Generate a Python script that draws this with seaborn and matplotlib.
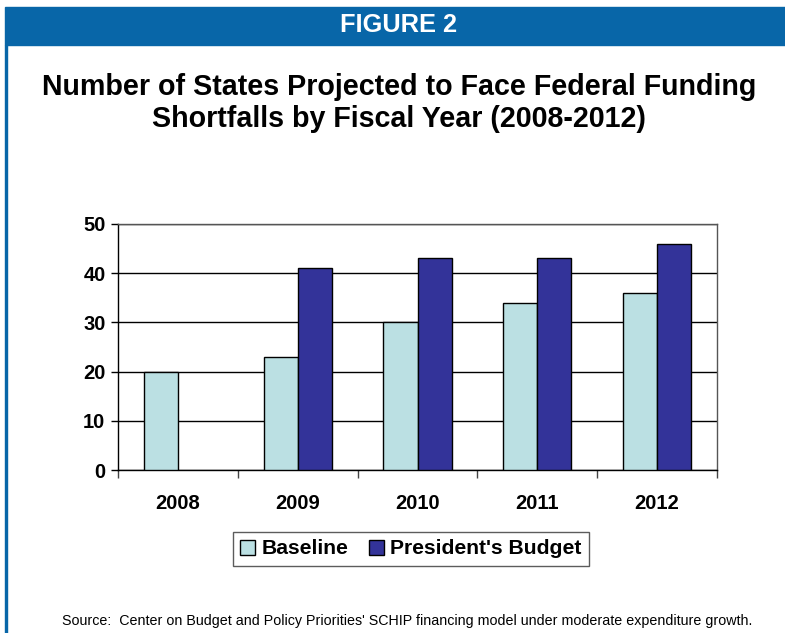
import matplotlib
matplotlib.use("Agg")
import matplotlib.pyplot as plt
import matplotlib.patches as mpatches
import numpy as np
import pandas as pd
import seaborn as sns

years = ["2008", "2009", "2010", "2011", "2012"]
baseline = [20, 23, 30, 34, 36]
presidents_budget = [np.nan, 41, 43, 43, 46]
series_names = ["Baseline", "President's Budget"]
series_colors = ["#BBE0E3", "#333399"]

df = pd.DataFrame({
    "year": years * 2,
    "states": baseline + presidents_budget,
    "series": [series_names[0]] * len(years) + [series_names[1]] * len(years),
})

sns.set_theme(style="white")
plt.rcParams["font.family"] = ["Liberation Sans", "DejaVu Sans"]
plt.rcParams["text.color"] = "black"
plt.rcParams["xtick.labelcolor"] = "black"
plt.rcParams["ytick.labelcolor"] = "black"

W, H = 785, 633
fig = plt.figure(figsize=(W / 100, H / 100), dpi=100)

# header banner and left rule
fig.patches.append(mpatches.Rectangle((5 / W, 1 - 45 / H), 1, 38 / H,
                                      transform=fig.transFigure, color="#0866A8", zorder=0))
fig.patches.append(mpatches.Rectangle((5 / W, 0), 2 / W, 1 - 45 / H,
                                      transform=fig.transFigure, color="#0866A8", zorder=0))
fig.text(399 / W, 1 - 25 / H, "FIGURE 2", color="white", fontsize=18.3,
         fontweight="bold", ha="center", va="center")

fig.text(399 / W, 1 - 103 / H,
         "Number of States Projected to Face Federal Funding\nShortfalls by Fiscal Year (2008-2012)",
         ha="center", va="center", fontsize=20.6, fontweight="bold", linespacing=1.15)

ax = fig.add_axes([118 / W, 1 - 470 / H, (717 - 118) / W, (470 - 224) / H])
sns.barplot(data=df, x="year", y="states", hue="series", palette=series_colors,
            saturation=1, width=0.57, edgecolor="black", linewidth=1, ax=ax, zorder=3)

ax.set_ylim(0, 50)
ax.set_xlim(-0.5, 4.5)
ax.set_yticks(range(0, 51, 10))
ax.yaxis.grid(True, color="black", linewidth=1, zorder=0)
ax.set_axisbelow(True)
ax.set_xlabel("")
ax.set_ylabel("")
for s in ["left", "bottom"]:
    ax.spines[s].set_color("black")
    ax.spines[s].set_linewidth(1)
for s in ["top", "right"]:
    ax.spines[s].set_color("#555555")
    ax.spines[s].set_linewidth(1)

ax.tick_params(axis="y", direction="out", length=5, width=1, color="black",
               labelsize=14.5, pad=4, left=True)
ax.tick_params(axis="x", which="major", length=0, labelsize=14.5, pad=17)
ax.set_xticks(np.arange(-0.5, 5, 1), minor=True)
ax.tick_params(axis="x", which="minor", direction="out", length=6, width=1,
               color="#444444", bottom=True)
for lbl in ax.get_xticklabels() + ax.get_yticklabels():
    lbl.set_fontweight("bold")
    lbl.set_color("black")

ax.legend_.remove()
handles = [mpatches.Patch(facecolor=c, edgecolor="black", linewidth=1) for c in series_colors]
leg = fig.legend(handles, series_names, loc="center", bbox_to_anchor=(411 / W, 1 - 549 / H),
                 ncol=2, frameon=True, fancybox=False, edgecolor="#333333",
                 prop={"weight": "bold", "size": 15.2}, handlelength=0.7, handleheight=0.7,
                 handletextpad=0.3, columnspacing=1.0, borderpad=0.35, borderaxespad=0)
leg.get_frame().set_linewidth(1)

fig.text(407 / W, 1 - 621 / H,
         "Source:  Center on Budget and Policy Priorities' SCHIP financing model under moderate expenditure growth.",
         ha="center", va="center", fontsize=10.3)

fig.savefig("out.png", dpi=100)
